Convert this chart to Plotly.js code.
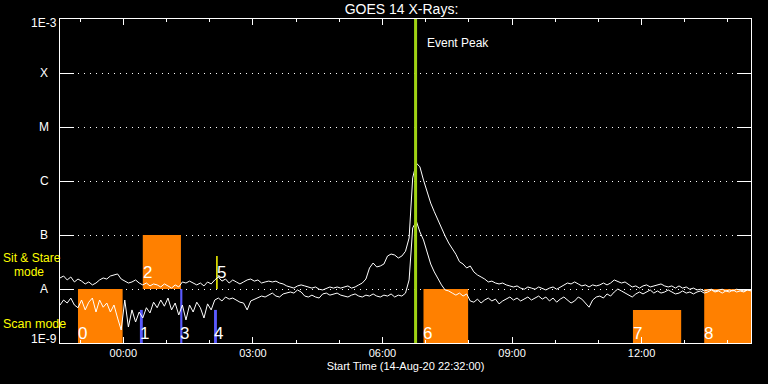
<!DOCTYPE html>
<html>
<head>
<meta charset="utf-8">
<script src="https://cdn.plot.ly/plotly-3.0.1.min.js"></script>
<style>html,body{margin:0;padding:0;background:#000;}#chart{width:768px;height:384px;}</style>
</head>
<body>
<div id="chart"></div>
<script>
// ---------- DATA ----------
const startTime = "2020-08-14 22:32:00";
const endTime = "2020-08-15 14:32:00";
const sampleStepMin = 5;                 // sampling interval of the curves (minutes)
// GOES 14 long channel (1-8 A), units of 1e-9 W/m^2
const longNano = [
 16,17.4,14.7,16.7,13.5,15.3,14,12.4,13.5,11.9,
 12.9,14.7,16,15.3,17.4,18.2,19,15.3,14,12.9,
 13.5,14.7,12.9,11.9,12.9,11.4,12.4,11.9,10.9,12.4,
 11.4,10.4,11.9,10.9,13.5,12.9,14,12.9,11.9,12.9,
 11.4,13.5,12.4,14.7,16.7,14,15.3,12.9,14.7,13.5,
 12.4,13.5,14.7,15.3,14,14.7,12.9,13.5,14,13.5,
 14,12.9,12.4,11.4,10.9,10.4,11.4,11.9,11.4,10.9,
 10.4,10.9,9.9,9.6,10.4,10.9,10.4,10.9,10.4,10.9,
 11.4,10.4,10.9,11.9,12.9,15.3,24.5,30.3,25.6,26.7,
 29,40.8,44.4,42.6,37.5,40.8,50,88,1140,2150,
 1830,1040,625,390,270,190,130,96,71,57,
 44,32,29,24.5,26.7,20.7,18.2,16.7,15.3,13.5,
 14,12.9,12.4,12.9,11.9,11.4,10.9,11.4,10.4,9.9,
 10.9,10.4,9.9,10.9,10.4,9.6,10.4,10.9,9.9,10.9,
 11.9,12.9,12.4,13.5,12.4,11.4,11.9,10.9,11.9,11.4,
 11.9,12.9,11.9,12.9,14.7,14,12.9,13.5,11.9,10.9,
 11.4,10.4,11.4,11.9,10.9,11.4,11.9,12.4,11.4,10.9,
 11.4,10.4,11.4,10.4,10.9,9.9,10.4,9.6,9.9,9.2,
 9.6,9.9,9.2,9.6,9.9,9.2,9.6,9.2,9.9,9.6,
 9.2,9.6,9.6
];
// GOES 14 short channel (0.5-4 A), units of 1e-9 W/m^2
const shortNano = [
 5.05,6.25,5.5,6.8,5.05,4.5,6.25,4.1,5.7,6.8,
 3.75,6.25,4.6,5.5,3.75,5.05,2.9,1.74,6.25,1.98,
 4.1,2.45,3.75,2.9,4.5,3.6,5.7,4.5,6.25,4.8,
 6.8,4.1,5.5,3.3,5.05,2.67,5.05,3.75,5.7,4.5,
 2.9,5.3,4.1,6.25,6.8,6,7.1,6.5,6.8,6.25,
 5.7,5.5,4.1,6,6.5,6.8,7.4,7.1,7.7,8.4,
 7.4,7.1,8.1,8.4,8.8,8.4,9.6,8.8,7.4,7.1,
 7.7,7.1,6.8,8.1,8.4,7.7,8.1,8.4,7.7,7.4,
 7.1,7.7,8.1,7.4,7.1,7.7,7.4,8.1,7.4,7.1,
 7.7,7.4,8.1,7.1,7.7,7.4,8.4,14.7,135,181,
 114,81,48,29,20.7,15.3,11.9,9.6,9.2,8.4,
 7.7,8.4,7.4,8.1,6,5.7,6.5,5.5,6.25,6.8,
 6,6.5,5.3,6,6.5,7.1,6.25,6.8,6,6.5,
 7.1,6.25,6.8,7.4,6.5,7.1,6,6.8,5.7,6.5,
 7.1,6.25,5.5,6,7.1,6.5,5.5,4.6,6.25,7.1,
 7.4,6.8,8.1,7.4,8.8,10,9.2,8.4,7.7,7.1,
 8.1,8.8,8.1,8.8,9.6,8.4,9.2,8.4,8.8,9.6,
 8.8,8.1,8.4,9.2,8.4,8.8,8.1,8.8,9.2,8.4,
 8.8,9.6,8.8,9.2,8.4,9.2,8.8,9.6,8.8,9.2,
 8.8,9.6,9.2
];
// observation boxes
const boxLabels = ["0","1","2","3","4","5","6","7","8"];
const boxStart  = ["2020-08-14 22:57","2020-08-15 00:23","2020-08-15 00:27","2020-08-15 01:19","2020-08-15 02:06","2020-08-15 02:10","2020-08-15 06:57","2020-08-15 11:48","2020-08-15 13:27"];
const boxEnd    = ["2020-08-14 23:59","2020-08-15 00:27","2020-08-15 01:20","2020-08-15 01:22","2020-08-15 02:10","2020-08-15 02:10","2020-08-15 07:59","2020-08-15 12:55","2020-08-15 14:32"];
const boxLow    = [1e-9,1e-9,1e-8,1e-9,1e-9,1e-8,1e-9,1e-9,1e-9];
const boxHigh   = [1e-8,4.1e-9,1e-7,1e-8,4.1e-9,4.1e-8,1e-8,4.1e-9,1e-8];
const boxKind   = ["orange","blue","orange","blue","blue","line","orange","orange","orange"];
const eventPeak = "2020-08-15 06:46";
const yTickVals = [1e-9,1e-8,1e-7,1e-6,1e-5,1e-4,1e-3];
const yTickText = ["1E-9","A","B","C","M","X","1E-3"];
const xTickStart = "2020-08-15 00:00";

// ---------- BUILD ----------
function fmt(ms){ return new Date(ms).toISOString().slice(0,19).replace('T',' '); }
const t0 = Date.parse(startTime.replace(' ','T')+'Z');
const times = longNano.map((_,i)=>fmt(t0 + i*sampleStepMin*60000));
const FONT = "Liberation Sans, Arial, sans-serif";
const L=60, R=751, T=19, B=343;
const px2x = p => (p-L)/(R-L);
const px2y = p => (B-p)/(B-T);

const colors = {orange:'#ff8000', blue:'#5a5aff', line:'#ffff00'};
const traces = [];
const annotations = [];
// observation boxes drawn as filled traces (below the curves)
boxLabels.forEach((lab,i)=>{
  if (boxKind[i]==='line') {
    traces.push({x:[boxStart[i],boxStart[i]], y:[boxLow[i],boxHigh[i]], type:'scatter', mode:'lines',
      line:{color:colors.line, width:1.5}, hoverinfo:'skip'});
  } else {
    traces.push({x:[boxStart[i],boxEnd[i],boxEnd[i],boxStart[i],boxStart[i]],
      y:[boxLow[i],boxLow[i],boxHigh[i],boxHigh[i],boxLow[i]], type:'scatter', mode:'lines',
      fill:'toself', fillcolor:colors[boxKind[i]], line:{width:0, color:colors[boxKind[i]]}, hoverinfo:'skip'});
  }
  const sitStare = boxLow[i] >= 1e-8;
  annotations.push({xref:'x', yref:'paper', x:boxStart[i], y:px2y(sitStare?272:333.5),
    xanchor:'left', yanchor:'middle', text:lab, showarrow:false, borderpad:0, borderwidth:0,
    font:{family:FONT, size:17, color:'#ffffff'}});
});
traces.push({x: times, y: longNano.map(v=>v*1e-9), type:'scatter', mode:'lines', line:{color:'#ffffff', width:1}, hoverinfo:'skip'});
traces.push({x: times, y: shortNano.map(v=>v*1e-9), type:'scatter', mode:'lines', line:{color:'#ffffff', width:1}, hoverinfo:'skip'});

const shapes = [{type:'line', layer:'above', xref:'x', yref:'paper', x0:eventPeak, x1:eventPeak, y0:0, y1:1,
  line:{color:'rgb(160,210,20)', width:3}}];
annotations.push({xref:'paper', yref:'paper', x:px2x(426), y:px2y(43), xanchor:'left', yanchor:'middle',
  text:'Event Peak', showarrow:false, borderpad:0, font:{family:FONT, size:12, color:'#ffffff'}});

yTickVals.forEach((v,i)=>{
  let shift = 0;
  if (i===0) shift = 4;
  if (i===yTickVals.length-1) shift = -4;
  annotations.push({xref:'paper', yref:'y', x:px2x(44), y:Math.log10(v), yshift:shift, xanchor:'center', yanchor:'middle',
    text:yTickText[i], showarrow:false, borderpad:0, font:{family:FONT, size:12, color:'#ffffff'}});
});
annotations.push({xref:'paper', yref:'paper', x:px2x(2), y:px2y(257.5), xanchor:'left', yanchor:'middle',
  text:'Sit & Stare', showarrow:false, borderpad:0, font:{family:FONT, size:12, color:'#ffff00'}});
annotations.push({xref:'paper', yref:'paper', x:px2x(13), y:px2y(271.5), xanchor:'left', yanchor:'middle',
  text:'mode', showarrow:false, borderpad:0, font:{family:FONT, size:12, color:'#ffff00'}});
annotations.push({xref:'paper', yref:'paper', x:px2x(2), y:px2y(323.5), xanchor:'left', yanchor:'middle',
  text:'Scan mode', showarrow:false, borderpad:0, font:{family:FONT, size:12.5, color:'#ffff00'}});

const layout = {
  width:768, height:384,
  paper_bgcolor:'#000000', plot_bgcolor:'#000000',
  margin:{l:L, r:768-R, t:T, b:384-B},
  showlegend:false,
  title:{text:'GOES 14 X-Rays:', font:{family:FONT, size:14, color:'#ffffff'}, xref:'container', yref:'container',
         x:401.5/768, y:1-9.5/384, xanchor:'center', yanchor:'middle'},
  xaxis:{type:'date', range:[startTime,endTime], tickformat:'%H:%M', tick0:xTickStart, dtick:3*3600000,
    ticks:'inside', ticklen:6, tickwidth:1, tickcolor:'#ffffff',
    minor:{dtick:3600000, tick0:xTickStart, ticks:'inside', ticklen:3, tickwidth:1, tickcolor:'#ffffff', showgrid:false},
    showline:true, linecolor:'#ffffff', linewidth:1, mirror:'ticks', showgrid:false, zeroline:false,
    tickfont:{family:FONT, size:11, color:'#ffffff'},
    title:{text:'Start Time (14-Aug-20 22:32:00)', font:{family:FONT, size:11, color:'#ffffff'}, standoff:4}},
  yaxis:{type:'log', range:[-9,-3], tickvals:yTickVals, ticktext:yTickText, showticklabels:false,
    ticks:'inside', ticklen:14, tickwidth:1, tickcolor:'#ffffff',
    showline:true, linecolor:'#ffffff', linewidth:1, mirror:'ticks',
    showgrid:true, gridcolor:'#ffffff', gridwidth:1, griddash:'1px,5px', zeroline:false},
  shapes:shapes, annotations:annotations
};
Plotly.newPlot('chart', traces, layout, {staticPlot:true, displayModeBar:false});
</script>
</body>
</html>
